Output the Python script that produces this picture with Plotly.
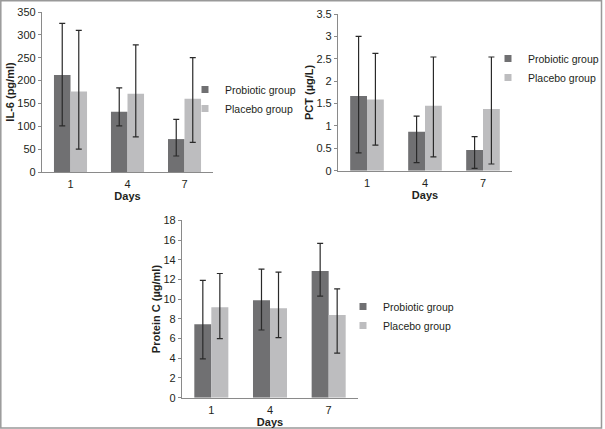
import plotly.graph_objects as go

W, H = 605, 429

days = ["1", "4", "7"]
groups = ["Probiotic group", "Placebo group"]

il6_probiotic = [212, 132, 72]
il6_probiotic_err_plus = [113, 52, 43]
il6_probiotic_err_minus = [111, 31, 37]
il6_placebo = [176, 171, 160]
il6_placebo_err_plus = [134, 107, 90]
il6_placebo_err_minus = [126, 94, 95]

pct_probiotic = [1.67, 0.87, 0.46]
pct_probiotic_err_plus = [1.33, 0.35, 0.30]
pct_probiotic_err_minus = [1.27, 0.69, 0.41]
pct_placebo = [1.59, 1.45, 1.38]
pct_placebo_err_plus = [1.03, 1.09, 1.16]
pct_placebo_err_minus = [1.02, 1.14, 1.23]

pc_probiotic = [7.45, 9.9, 12.85]
pc_probiotic_err_plus = [4.45, 3.15, 2.81]
pc_probiotic_err_minus = [3.52, 3.03, 2.55]
pc_placebo = [9.17, 9.07, 8.39]
pc_placebo_err_plus = [3.43, 3.68, 2.66]
pc_placebo_err_minus = [3.17, 2.98, 3.86]

DARK = "#707072"
LIGHT = "#bdbdbf"
TXT = "#231f20"
AX = "#8a8a8a"
ERR = "#2a2a2a"
FONT = "Liberation Sans, Arial, sans-serif"

fig = go.Figure()

panels = [
    ("x", "y", "legend", il6_probiotic, il6_probiotic_err_plus, il6_probiotic_err_minus,
     il6_placebo, il6_placebo_err_plus, il6_placebo_err_minus),
    ("x2", "y2", "legend2", pct_probiotic, pct_probiotic_err_plus, pct_probiotic_err_minus,
     pct_placebo, pct_placebo_err_plus, pct_placebo_err_minus),
    ("x3", "y3", "legend3", pc_probiotic, pc_probiotic_err_plus, pc_probiotic_err_minus,
     pc_placebo, pc_placebo_err_plus, pc_placebo_err_minus),
]

for xa, ya, lg, pv, pp, pm, cv, cp, cm in panels:
    for name, vals, ep, em, col in [(groups[0], pv, pp, pm, DARK), (groups[1], cv, cp, cm, LIGHT)]:
        fig.add_trace(go.Bar(
            x=days, y=vals, name=name, marker=dict(color=col, line=dict(width=0)),
            error_y=dict(type="data", symmetric=False, array=ep, arrayminus=em,
                         color=ERR, thickness=1.2, width=3),
            xaxis=xa, yaxis=ya, showlegend=False, legendgroup=lg + name,
        ))
        # legend entry (small square swatch)
        fig.add_trace(go.Scatter(
            x=[None], y=[None], mode="markers", name=name,
            marker=dict(symbol="square", size=7, color=col),
            xaxis=xa, yaxis=ya, legend=lg, legendgroup=lg + name, showlegend=True,
        ))

def dom_x(a, b):
    return [a / W, b / W]

def dom_y(top, bottom):
    return [1 - bottom / H, 1 - top / H]

axis_common = dict(
    showgrid=False, zeroline=False, showline=True, linecolor=AX, linewidth=1.2,
    tickfont=dict(family=FONT, size=11, color=TXT),
)
xcommon = dict(axis_common, ticks="", ticklabelstandoff=2,
               title=dict(text="<b>Days</b>", font=dict(family=FONT, size=11, color=TXT), standoff=0))
ycommon = dict(axis_common, ticks="outside", ticklen=3, tickcolor=AX, tickwidth=1)

legend_common = dict(
    font=dict(family=FONT, size=10.5, color=TXT), bgcolor="rgba(0,0,0,0)",
    borderwidth=0, xanchor="left", yanchor="middle", tracegroupgap=0,
    itemwidth=30,
)

fig.update_layout(
    width=W, height=H, margin=dict(l=0, r=0, t=0, b=0, autoexpand=False),
    paper_bgcolor="white", plot_bgcolor="white",
    barmode="group", bargap=0.42, bargroupgap=0,
    font=dict(family=FONT, color=TXT),
    xaxis=dict(xcommon, domain=dom_x(42, 213), anchor="y"),
    yaxis=dict(ycommon, domain=dom_y(12, 172), anchor="x", range=[0, 350], dtick=50,
               title=dict(text="<b>IL-6 (pg/ml)</b>", font=dict(family=FONT, size=11, color=TXT), standoff=0)),
    xaxis2=dict(xcommon, domain=dom_x(338, 512), anchor="y2"),
    yaxis2=dict(ycommon, domain=dom_y(14, 170.7), anchor="x2", range=[0, 3.5], dtick=0.5,
                title=dict(text="<b>PCT (µg/L)</b>", font=dict(family=FONT, size=11, color=TXT), standoff=0)),
    xaxis3=dict(xcommon, domain=dom_x(182, 358), anchor="y3"),
    yaxis3=dict(ycommon, domain=dom_y(220.3, 397.7), anchor="x3", range=[0, 18], dtick=2,
                title=dict(text="<b>Protein C (µg/ml)</b>", font=dict(family=FONT, size=11, color=TXT), standoff=0)),
    legend=dict(legend_common, x=185 / W, y=1 - 99 / H),
    legend2=dict(legend_common, x=488 / W, y=1 - 68 / H),
    legend3=dict(legend_common, x=343 / W, y=1 - 316 / H),
    shapes=[dict(type="rect", xref="paper", yref="paper", x0=0.8 / W, x1=601.5 / W,
                 y0=1 - 428 / H, y1=1 - 0.8 / H, line=dict(color="#999999", width=1.5))],
)

fig.write_html(
    "out.html",
    config={"displayModeBar": False},
    post_script="document.body.style.margin='0';document.body.style.overflow='hidden';",
)
